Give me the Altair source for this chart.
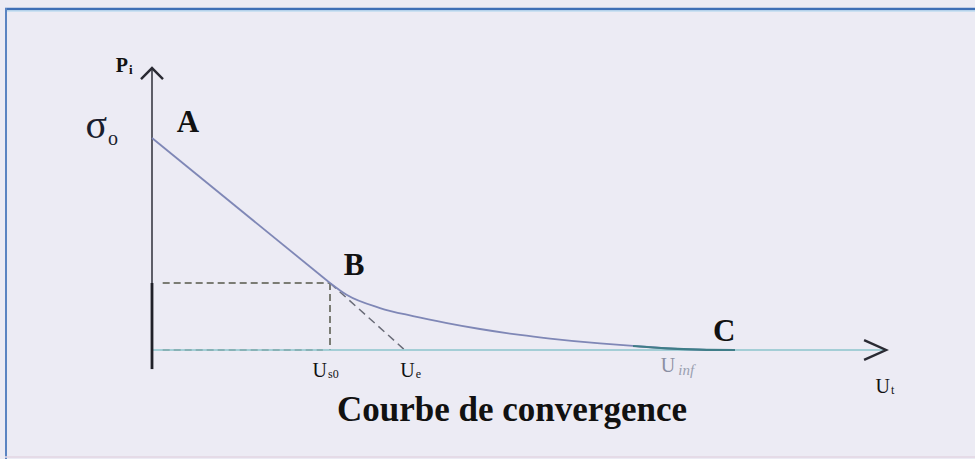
import altair as alt
import pandas as pd

# Convergence curve: internal pressure P_i versus radial displacement U_t
U_CURVE = [0.0, 2.500, 2.739, 3.202, 3.666, 4.143, 4.607, 5.169, 5.590,
           6.292, 6.756, 7.233, 7.697, 8.188]
P_CURVE = [1.0, 0.316, 0.259, 0.198, 0.160, 0.127, 0.099, 0.071, 0.054,
           0.031, 0.019, 0.008, 0.002, 0.0]

SIGMA0 = 1.0      # initial stress (point A)
U_S0 = 2.5        # displacement at point B
P_B = 0.316       # pressure at point B
U_E = 3.55        # elastic displacement (tangent intercept)
U_INF = 7.70      # displacement at equilibrium (point C)
U_AXIS_END = 10.31
P_AXIS_END = 1.33
P_AXIS_LOW = -0.09

POINT_NAMES = ["A", "B", "C"]
POINT_U = [0.0, U_S0, U_INF]
POINT_P = [SIGMA0, P_B, 0.0]

FONT = "Liberation Serif"
W, H = 975, 459

x_scale = alt.Scale(domain=[-152 / 71.2, (W - 152) / 71.2], nice=False, zero=False)
y_scale = alt.Scale(domain=[-(H - 350) / 212, 350 / 212], nice=False, zero=False)
X = lambda f: alt.X(f, type="quantitative", scale=x_scale, axis=None)
Y = lambda f: alt.Y(f, type="quantitative", scale=y_scale, axis=None)

curve_df = pd.DataFrame({"u": U_CURVE, "p": P_CURVE})
pts = pd.DataFrame({"name": POINT_NAMES, "u": POINT_U, "p": POINT_P})

# frame around the figure
frame = pd.DataFrame({"k": [0]})
frame_top = alt.Chart(frame).mark_rule(color="#3f6fb6", strokeWidth=2.5).encode(
    x=alt.value(5), x2=alt.value(W), y=alt.value(9), y2=alt.value(9))
frame_top2 = alt.Chart(frame).mark_rule(color="#a9d6ee", strokeWidth=1).encode(
    x=alt.value(5), x2=alt.value(W), y=alt.value(11), y2=alt.value(11))
frame_left = alt.Chart(frame).mark_rule(color="#5b84c2", strokeWidth=2).encode(
    x=alt.value(6), x2=alt.value(6), y=alt.value(8), y2=alt.value(H))
frame_bottom = alt.Chart(frame).mark_rule(color="#e3d6e3", strokeWidth=1.5).encode(
    x=alt.value(5), x2=alt.value(W), y=alt.value(457), y2=alt.value(457))

# axes
axes_df = pd.DataFrame({
    "u": [0.0, 0.0], "u2": [U_AXIS_END, 0.0],
    "p": [0.0, P_AXIS_LOW], "p2": [0.0, P_AXIS_END],
    "c": ["x", "y"],
})
x_axis = alt.Chart(axes_df[axes_df.c == "x"]).mark_rule(
    color="#8cc4cc", strokeWidth=1.6).encode(x=X("u"), x2="u2", y=Y("p"), y2="p2")
y_axis = alt.Chart(axes_df[axes_df.c == "y"]).mark_rule(
    color="#3a3a44", strokeWidth=1.6).encode(x=X("u"), x2="u2", y=Y("p"), y2="p2")
y_thick = alt.Chart(pd.DataFrame({"u": [0.0], "p": [P_AXIS_LOW], "p2": [P_B]})).mark_rule(
    color="#202028", strokeWidth=2.8).encode(x=X("u"), y=Y("p"), y2="p2")

arrow_y = alt.Chart(pd.DataFrame({"u": [0.0], "p": [P_AXIS_END]})).mark_point(
    shape="M-1,1L0,0L1,1", filled=False, size=484, color="#2a2a33",
    strokeWidth=2.4, opacity=1).encode(x=X("u"), y=Y("p"))
arrow_x = alt.Chart(pd.DataFrame({"u": [U_AXIS_END], "p": [0.0]})).mark_point(
    shape="M-1,-0.45L0,0L-1,0.45", filled=False, size=1936, color="#2a2a33",
    strokeWidth=2.4, opacity=1).encode(x=X("u"), y=Y("p"))

# dashed construction lines
dash_df = pd.DataFrame({
    "u": [0.15, U_S0, 0.15], "u2": [U_S0, U_S0, U_S0 - 0.1],
    "p": [P_B, P_B, 0.0], "p2": [P_B, 0.0, 0.0],
})
dashes = alt.Chart(dash_df).mark_rule(
    color="#55584a", strokeWidth=1.5, strokeDash=[7, 4]).encode(
    x=X("u"), x2="u2", y=Y("p"), y2="p2")
tangent = alt.Chart(pd.DataFrame({"u": [U_S0], "u2": [U_E], "p": [P_B], "p2": [0.0]})).mark_rule(
    color="#6a6c78", strokeWidth=1.5, strokeDash=[8, 5]).encode(
    x=X("u"), x2="u2", y=Y("p"), y2="p2")

# the convergence curve: straight elastic branch A-B, then the curved branch B-C
elastic = alt.Chart(curve_df[curve_df.u <= U_S0]).mark_line(
    color="#7f87b6", strokeWidth=1.8).encode(x=X("u"), y=Y("p"), order="u:Q")
plastic = alt.Chart(curve_df[curve_df.u >= U_S0]).mark_line(
    color="#7f87b6", strokeWidth=1.8, interpolate="monotone").encode(
    x=X("u"), y=Y("p"), order="u:Q")
tail = alt.Chart(curve_df[curve_df.u >= 6.7]).mark_line(
    color="#3f7d88", strokeWidth=2.2, interpolate="monotone").encode(
    x=X("u"), y=Y("p"), order="u:Q")


def label(df, text, size, dx=0, dy=0, align="center", bold=False, italic=False,
          color="#111", font=FONT):
    return alt.Chart(df).mark_text(
        font=font, fontSize=size, dx=dx, dy=dy, align=align, baseline="alphabetic",
        fontWeight="bold" if bold else "normal",
        fontStyle="italic" if italic else "normal", color=color,
    ).encode(x=X("u"), y=Y("p"), text=alt.value(text))


def point(name):
    return pts[pts.name == name]


a_lab = label(point("A"), "A", 31, dx=36, dy=-6, bold=True)
b_lab = label(point("B"), "B", 31, dx=24, dy=-8, bold=True)
c_lab = label(point("C"), "C", 31, dx=24, dy=-9, bold=True)

sig = label(point("A"), "σ", 40, dx=-45, dy=0, align="right", color="#1a1d2e")
sig_sub = label(point("A"), "o", 20, dx=-44, dy=7, align="left", color="#1a1d2e")

ticks = pd.DataFrame({"u": [U_S0, U_E, U_INF], "p": [0.0, 0.0, 0.0]})
us0 = label(ticks.iloc[[0]], "U", 20, dx=-3, dy=27, align="right")
us0_sub = label(ticks.iloc[[0]], "s0", 12, dx=-2, dy=28, align="left")
ue = label(ticks.iloc[[1]], "U", 20, dx=10, dy=27, align="right")
ue_sub = label(ticks.iloc[[1]], "e", 12, dx=11, dy=28, align="left")
uinf = label(ticks.iloc[[2]], "U", 20, dx=-25, dy=22, align="right", color="#8a8fa2")
uinf_sub = label(ticks.iloc[[2]], "inf", 15, dx=-22, dy=25, align="left", italic=True,
                 color="#9a9fb0")


# axis names and caption
def free_text(text, x, y, size, align="center", bold=False, color="#111"):
    return alt.Chart(frame).mark_text(
        font=FONT, fontSize=size, align=align, baseline="alphabetic",
        fontWeight="bold" if bold else "normal", color=color,
    ).encode(x=alt.value(x), y=alt.value(y), text=alt.value(text))


p_name = free_text("P", 128, 72, 20, align="right", bold=True)
p_sub = free_text("i", 129, 74, 13, align="left", bold=True)
u_name = free_text("U", 890, 393, 20, align="right")
u_sub = free_text("t", 891, 394, 12, align="left")
caption = free_text("Courbe de convergence", 512, 421, 35, bold=True)

chart = alt.layer(
    frame_top, frame_top2, frame_left, frame_bottom,
    dashes, tangent, x_axis, y_axis, y_thick, elastic, plastic, tail, arrow_y, arrow_x,
    a_lab, b_lab, c_lab, sig, sig_sub,
    us0, us0_sub, ue, ue_sub, uinf, uinf_sub,
    p_name, p_sub, u_name, u_sub, caption,
).properties(
    width=W, height=H, padding=0, autosize="none", background="#ecebf4",
).configure_view(stroke=None)

chart.save("out.html", embed_options={"renderer": "svg", "actions": False})
